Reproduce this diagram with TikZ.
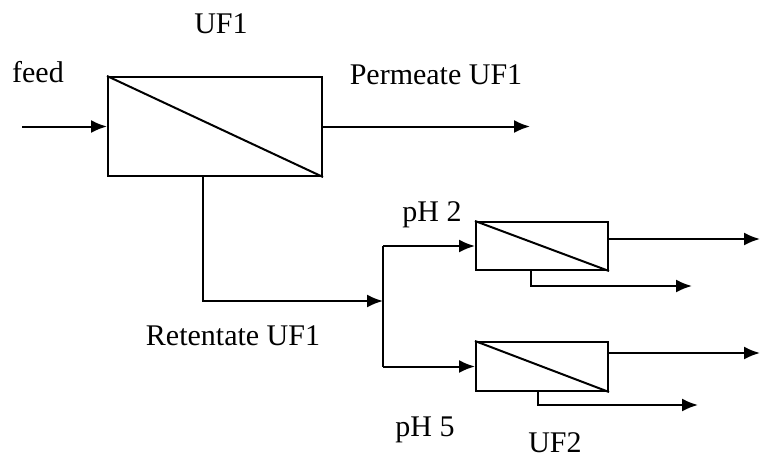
\documentclass[tikz,border=0pt]{standalone}
\usepackage{fontspec}
\setmainfont{Liberation Serif}
\usetikzlibrary{arrows.meta, positioning, calc}

\tikzset{
  membrane/.style={draw, line width=1pt, inner sep=0pt},
  flow/.style={line width=1pt, -{Latex[length=8pt, width=6.5pt]}},
  lbl/.style={font=\fontsize{15}{18}\selectfont, inner sep=0pt}
}

\begin{document}
\begin{tikzpicture}[x=0.5pt, y=-0.5pt]
  \useasboundingbox (0,0) rectangle (760,461);

  % first stage
  \node[membrane, minimum width=107pt, minimum height=49.5pt] (uf1) at (215,126.5) {};
  \draw[line width=1pt] (uf1.north west) -- (uf1.south east);
  \node[lbl] (uf1lbl) at (221,24) {UF1};
  \node[lbl] (feedlbl) at (38,72) {feed};
  \node[lbl] (permlbl) at (436,75) {Permeate UF1};
  \node[lbl] (retlbl) at (233,336) {Retentate UF1};

  \coordinate (feedin) at (22,126.5);
  \coordinate (permout) at (530,126.5);
  \coordinate (retdown) at (203,176);
  \coordinate (split) at (383,301);

  \draw[flow] (feedin) -- (uf1.west);
  \draw[flow] (uf1.east) -- (permout);
  \draw[flow] (retdown |- uf1.south) |- (split);

  % second stage
  \node[membrane, minimum width=66pt, minimum height=24pt] (uf2a) at (542,246) {};
  \node[membrane, minimum width=66pt, minimum height=24.5pt] (uf2b) at (542,366.5) {};
  \draw[line width=1pt] (uf2a.north west) -- (uf2a.south east);
  \draw[line width=1pt] (uf2b.north west) -- (uf2b.south east);
  \node[lbl] (ph2lbl) at (432,215) {pH 2};
  \node[lbl] (ph5lbl) at (425,430) {pH 5};
  \node[lbl] (uf2lbl) at (555,443) {UF2};

  \coordinate (outa) at (760,239);
  \coordinate (outb) at (760,353);
  \coordinate (reta) at (531,286);
  \coordinate (retb) at (538,405);

  \draw[flow] (split |- uf2a.west) -- (uf2a.west);
  \draw[flow] (split |- uf2b.west) -- (uf2b.west);
  \draw[line width=1pt] (split |- uf2a.west) -- (split |- uf2b.west);
  \draw[flow] (uf2a.east |- outa) -- (outa);
  \draw[flow] (uf2b.east |- outb) -- (outb);
  \draw[flow] (reta |- uf2a.south) |- ($(reta)+(161,0)$);
  \draw[flow] (retb |- uf2b.south) |- ($(retb)+(160,0)$);
\end{tikzpicture}
\end{document}
